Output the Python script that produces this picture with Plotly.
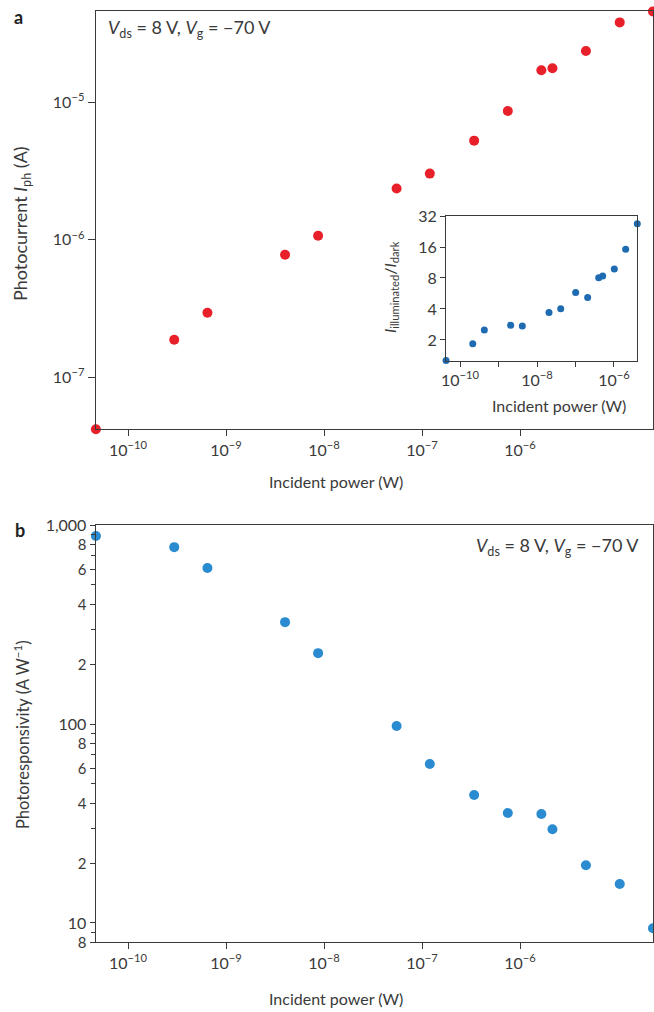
import plotly.graph_objects as go

# Panel a / b: incident power (W)
power = [4.7e-11, 2.96e-10, 6.46e-10, 4.0e-9, 8.7e-9, 5.5e-8, 1.2e-7,
         3.4e-7, 7.5e-7, 1.65e-6, 2.14e-6, 4.7e-6, 1.04e-5, 2.27e-5]
photocurrent = [4.2e-8, 1.88e-7, 2.95e-7, 7.8e-7, 1.07e-6, 2.36e-6, 3.03e-6,
                5.26e-6, 8.65e-6, 1.71e-5, 1.77e-5, 2.36e-5, 3.81e-5, 4.58e-5]
responsivity = [881, 774, 608, 325, 227, 97.7, 63, 44, 35.7, 35.3, 29.6,
                19.5, 15.7, 9.4]

# Inset: illuminated / dark current ratio
inset_power = [4.33e-11, 2.14e-10, 4.28e-10, 2.07e-9, 4.15e-9, 2.05e-8, 4.13e-8,
               1.01e-7, 2.07e-7, 4.01e-7, 5.08e-7, 1.02e-6, 2.01e-6, 4.03e-6]
inset_ratio = [1.26, 1.84, 2.5, 2.78, 2.74, 3.69, 4.03, 5.77, 5.16, 8.06,
               8.37, 9.78, 15.2, 26.9]

decades = [1e-10, 1e-9, 1e-8, 1e-7, 1e-6]
decade_labels = ['10<sup>−10</sup>', '10<sup>−9</sup>', '10<sup>−8</sup>',
                 '10<sup>−7</sup>', '10<sup>−6</sup>']

RED = '#e8202a'
BLUE_B = '#2a8bd0'
BLUE_INSET = '#1f6bb2'
INK = '#3a3a3a'
FONT = 'Lato'

W, H = 654, 1012


def px_x(x):
    return x / W


def px_y(y):
    return 1 - y / H


fig = go.Figure()

fig.add_trace(go.Scatter(
    x=power, y=photocurrent, mode='markers', xaxis='x', yaxis='y',
    marker=dict(color=RED, size=10), cliponaxis=False, showlegend=False,
))
fig.add_trace(go.Scatter(
    x=power, y=responsivity, mode='markers', xaxis='x2', yaxis='y2',
    marker=dict(color=BLUE_B, size=10), cliponaxis=False, showlegend=False,
))
fig.add_trace(go.Scatter(
    x=inset_power, y=inset_ratio, mode='markers', xaxis='x3', yaxis='y3',
    marker=dict(color=BLUE_INSET, size=7), cliponaxis=False, showlegend=False,
))

axis_common = dict(
    type='log', showgrid=False, zeroline=False, showline=True,
    linecolor=INK, linewidth=1.2, mirror=True, ticks='outside',
    tickcolor=INK, tickwidth=1, tickfont=dict(size=16, color=INK),
    automargin=False,
)

# responsivity ticks with small labels for 2/4/6/8
resp_vals = [8, 10, 20, 40, 60, 80, 100, 200, 400, 600, 800, 1000]
resp_text = []
for v in resp_vals:
    if v in (10, 100):
        resp_text.append(str(v))
    elif v == 1000:
        resp_text.append('1,000')
    else:
        resp_text.append('<span style="font-size:15px">%d</span>' % int(str(v)[0]))
resp_minor = [9, 30, 50, 70, 90, 300, 500, 700, 900]

fig.update_layout(
    width=W, height=H,
    margin=dict(l=0, r=0, t=0, b=0),
    paper_bgcolor='white', plot_bgcolor='rgba(0,0,0,0)',
    font=dict(family=FONT, color=INK),
    xaxis=dict(axis_common, domain=[px_x(95.7), px_x(653)], anchor='y',
               range=[-10.33, -4.6435], tickvals=decades, ticktext=decade_labels,
               ticklen=6),
    yaxis=dict(axis_common, domain=[px_y(429.3), px_y(11.3)], anchor='x',
               range=[-7.3775, -4.3385], tickvals=[1e-7, 1e-6, 1e-5],
               ticktext=['10<sup>−7</sup>', '10<sup>−6</sup>', '10<sup>−5</sup>'],
               ticklen=7),
    xaxis2=dict(axis_common, domain=[px_x(95.7), px_x(653)], anchor='y2',
                range=[-10.33, -4.6435], tickvals=decades,
                ticktext=decade_labels, ticklen=6),
    yaxis2=dict(axis_common, domain=[px_y(942.3), px_y(525)], anchor='x2',
                range=[0.9029, 3.0001], tickvals=resp_vals, ticktext=resp_text,
                ticklen=5,
                minor=dict(tickvals=resp_minor, ticklen=4, tickcolor=INK,
                           ticks='outside')),
    xaxis3=dict(axis_common, domain=[px_x(446), px_x(637.3)], anchor='y3',
                range=[-10.3645, -5.3945], tickvals=[1e-10, 1e-9, 1e-8, 1e-7, 1e-6],
                ticktext=['10<sup>−10</sup>', '', '10<sup>−8</sup>', '',
                          '10<sup>−6</sup>'],
                ticklen=5),
    yaxis3=dict(axis_common, domain=[px_y(360.7), px_y(216)], anchor='x3',
                range=[0.0995, 1.5053], tickvals=[2, 4, 8, 16, 32],
                ticktext=['2', '4', '8', '16', '32'], ticklen=5),
)

cond = '<i>V</i><sub>ds</sub> = 8 V, <i>V</i><sub>g</sub> = −70 V'
annots = [
    dict(text='<b>a</b>', x=px_x(12), y=px_y(17), xanchor='left', font=dict(size=18, color='#222')),
    dict(text='<b>b</b>', x=px_x(13), y=px_y(530), xanchor='left', font=dict(size=18, color='#222')),
    dict(text=cond, x=px_x(106), y=px_y(29), xanchor='left', font=dict(size=18, color=INK)),
    dict(text=cond, x=px_x(641), y=px_y(546), xanchor='right', font=dict(size=18, color=INK)),
    dict(text='Photocurrent <i>I</i><sub>ph</sub> (A)', x=px_x(21), y=px_y(224),
         textangle=-90, font=dict(size=18, color=INK)),
    dict(text='Photoresponsivity (A W<sup>−1</sup>)', x=px_x(22), y=px_y(735),
         textangle=-90, font=dict(size=16.5, color=INK)),
    dict(text='Incident power (W)', x=px_x(336), y=px_y(481), font=dict(size=16, color=INK)),
    dict(text='Incident power (W)', x=px_x(336), y=px_y(998), font=dict(size=16, color=INK)),
    dict(text='Incident power (W)', x=px_x(559), y=px_y(405), font=dict(size=16, color=INK)),
    dict(text='<i>I</i><sub>illuminated</sub>/<i>I</i><sub>dark</sub>', x=px_x(390), y=px_y(287),
         textangle=-90, font=dict(size=16, color=INK)),
]
for a in annots:
    a.update(xref='paper', yref='paper', showarrow=False)
    a.setdefault('xanchor', 'center')
    a.setdefault('yanchor', 'middle')
fig.update_layout(annotations=annots)

# drop the default page margin so the figure sits at the window's corner
fig.write_html("out.html", config={'displayModeBar': False},
               post_script="document.body.style.margin='0';")
